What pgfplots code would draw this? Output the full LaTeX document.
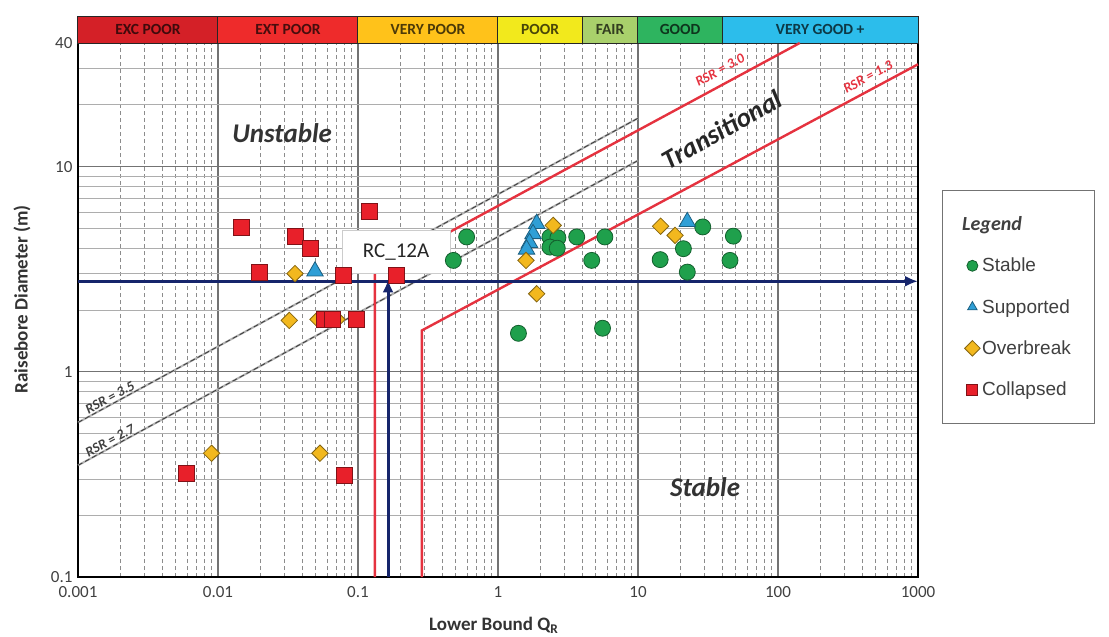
\documentclass[border=0pt]{standalone}
\usepackage{pgfplots}
\pgfplotsset{compat=1.18}
\usepackage{fontspec}
\setmainfont{Carlito}
\newfontfamily\arialf{Liberation Sans}
\usetikzlibrary{arrows.meta}

\definecolor{excpoor}{HTML}{D42027}
\definecolor{extpoor}{HTML}{EE2B2B}
\definecolor{verypoor}{HTML}{FFC21A}
\definecolor{poorc}{HTML}{F2E91C}
\definecolor{fairc}{HTML}{A9D06B}
\definecolor{goodc}{HTML}{2EB45F}
\definecolor{vgc}{HTML}{2CBDEB}
\definecolor{rsrred}{HTML}{E5323F}
\definecolor{navy}{HTML}{16256B}
\definecolor{stablec}{HTML}{1FA04C}
\definecolor{suppc}{HTML}{2F9FD6}
\definecolor{overc}{HTML}{F2B81E}
\definecolor{collc}{HTML}{E8202A}

\begin{document}
\begin{tikzpicture}
\begin{axis}[
  scale only axis, width=840pt, height=534pt,
  xmode=log, ymode=log,
  xmin=0.001, xmax=1000, ymin=0.1, ymax=40,
  clip=false,
  axis line style={black, line width=1.4pt},
  tick style={draw=none},
  xtick={0.001,0.01,0.1,1,10,100,1000},
  xticklabels={0.001,0.01,0.1,1,10,100,1000},
  minor xtick={0.002,0.003,0.004,0.005,0.006,0.007,0.008,0.009,
               0.02,0.03,0.04,0.05,0.06,0.07,0.08,0.09,
               0.2,0.3,0.4,0.5,0.6,0.7,0.8,0.9,
               2,3,4,5,6,7,8,9,20,30,40,50,60,70,80,90,
               200,300,400,500,600,700,800,900},
  ytick={0.1,1,10,40},
  yticklabels={0.1,1,10,40},
  minor ytick={0.2,0.3,0.4,0.5,0.6,0.7,0.8,0.9,2,3,4,5,6,7,8,9,20,30},
  grid=both,
  major grid style={black!55, line width=1.1pt},
  minor x grid style={black!45, line width=0.8pt, dash pattern=on 4pt off 3pt},
  minor y grid style={black!32, line width=0.9pt},
  ticklabel style={font=\fontsize{17}{19}\selectfont, text=black!75},
  xticklabel style={yshift=-6pt},
  yticklabel style={xshift=-2pt},
  xlabel={Lower Bound Q\textsubscript{R}},
  ylabel={Raisebore Diameter (m)},
  every axis x label/.style={at={(axis description cs:0.495,-0.09)}, anchor=center,
     font=\bfseries\fontsize{19}{21}\selectfont, text=black!80},
  every axis y label/.style={at={(axis description cs:-0.0667,0.52)}, anchor=center, rotate=90,
     font=\bfseries\fontsize{19}{21}\selectfont, text=black!80},
  legend image code/.code={\draw[#1,mark size=5.5pt] plot coordinates {(0pt,0pt)};},
  legend style={at={(axis description cs:1.0286,0.7247)}, anchor=north west,
     draw=black!55, line width=1.2pt, fill=white, inner xsep=22pt, inner ysep=24pt,
     row sep=22pt, font=\arialf\fontsize{19}{21}\selectfont, text=black!75,
     cells={anchor=west}},
  legend cell align=left,
]
% rating band
\filldraw[draw=black!85, line width=1pt, fill=excpoor] (axis cs:0.001,40) rectangle (axis cs:0.01,53.6);
\filldraw[draw=black!85, line width=1pt, fill=extpoor] (axis cs:0.01,40) rectangle (axis cs:0.1,53.6);
\filldraw[draw=black!85, line width=1pt, fill=verypoor] (axis cs:0.1,40) rectangle (axis cs:1,53.6);
\filldraw[draw=black!85, line width=1pt, fill=poorc] (axis cs:1,40) rectangle (axis cs:4,53.6);
\filldraw[draw=black!85, line width=1pt, fill=fairc] (axis cs:4,40) rectangle (axis cs:10,53.6);
\filldraw[draw=black!85, line width=1pt, fill=goodc] (axis cs:10,40) rectangle (axis cs:40,53.6);
\filldraw[draw=black!85, line width=1pt, fill=vgc] (axis cs:40,40) rectangle (axis cs:1000,53.6);
\begin{scope}[every node/.style={font=\bfseries\fontsize{15.5}{17}\selectfont}]
\node[text=excpoor!30!black] at (axis cs:0.00316,46.3) {EXC POOR};
\node[text=extpoor!30!black] at (axis cs:0.0316,46.3) {EXT POOR};
\node[text=verypoor!30!black] at (axis cs:0.316,46.3) {VERY POOR};
\node[text=poorc!30!black] at (axis cs:2,46.3) {POOR};
\node[text=fairc!30!black] at (axis cs:6.32,46.3) {FAIR};
\node[text=goodc!30!black] at (axis cs:20,46.3) {GOOD};
\node[text=vgc!30!black] at (axis cs:200,46.3) {VERY GOOD +};
\end{scope}

% legend title
\addlegendimage{empty legend}
\addlegendentry{\hspace*{-20pt}\normalfont\bfseries\itshape\fontsize{20}{22}\selectfont Legend}

% RSR dashed lines
\addplot[forget plot, black!30, line width=2pt] coordinates {(0.001,0.566) (10,17.2)};
\addplot[forget plot, black!30, line width=2pt] coordinates {(0.001,0.35) (10,10.7)};
\addplot[forget plot, black!75, line width=0.9pt, dash pattern=on 5pt off 3pt] coordinates {(0.001,0.566) (10,17.2)};
\addplot[forget plot, black!75, line width=0.9pt, dash pattern=on 5pt off 3pt] coordinates {(0.001,0.35) (10,10.7)};
% RSR red lines
\addplot[forget plot, rsrred, line width=2.4pt] coordinates {(0.132,0.1) (0.132,3.05) (143,40)};
\addplot[forget plot, rsrred, line width=2.4pt] coordinates {(0.286,0.1) (0.286,1.59) (1000,31.5)};

% data
\addplot[only marks, mark=*, mark size=8pt, mark options={fill=stablec, draw=stablec!60!black, line width=0.8pt}] table {
x y
0.597 4.54
0.48 3.49
2.35 4.53
2.68 4.50
2.35 4.05
2.65 4.00
3.65 4.54
5.8 4.54
4.67 3.49
1.40 1.54
5.58 1.63
29 5.08
21.1 3.98
14.4 3.52
22.5 3.06
48 4.58
45.4 3.49
};
\addlegendentry{Stable}
\addplot[only marks, mark=triangle*, mark size=9.5pt, mark options={fill=suppc, draw=suppc!60!black, line width=0.8pt}] table {
x y
0.0493 3.09
1.89 5.27
1.78 4.70
1.68 4.25
1.60 3.95
22.5 5.38
};
\addlegendentry{Supported}
\addplot[only marks, mark=square*, mark size=5.8pt, mark options={rotate=45, fill=overc, draw=overc!55!black, line width=0.8pt}] table {
x y
0.0355 3.01
0.0323 1.78
0.0518 1.80
0.0708 1.80
0.0090 0.401
0.0535 0.401
1.585 3.49
2.48 5.17
1.89 2.40
14.5 5.12
18.4 4.62
};
\addlegendentry{Overbreak}
\addplot[only marks, mark=square*, mark size=8pt, mark options={fill=collc, draw=collc!55!black, line width=0.8pt}] table {
x y
0.0148 5.08
0.036 4.59
0.0454 4.01
0.120 6.06
0.0197 3.04
0.0785 2.95
0.189 2.95
0.0572 1.80
0.0652 1.80
0.098 1.80
0.00597 0.321
0.0794 0.313
};
\addlegendentry{Collapsed}

% navy arrows
\addplot[forget plot, navy, line width=3pt, -{Latex[length=13pt,width=11pt]}] coordinates {(0.001,2.76) (1000,2.76)};
\addplot[forget plot, navy, line width=3pt, -{Latex[length=13pt,width=11pt]}] coordinates {(0.164,0.1) (0.164,2.82)};

% annotations
\node[fill=white, draw=black!20, line width=0.8pt, minimum width=108pt, minimum height=43pt,
      font=\fontsize{21}{23}\selectfont, text=black!85] at (axis cs:0.187,3.85) {RC\_12A};
\node[font=\bfseries\itshape\fontsize{27}{29}\selectfont, text=black!80] at (axis cs:0.0287,14.5) {Unstable};
\node[font=\bfseries\itshape\fontsize{27}{29}\selectfont, text=black!80] at (axis cs:30.1,0.273) {Stable};
\node[font=\bfseries\itshape\fontsize{27}{29}\selectfont, text=black!85, rotate=29.5] at (axis cs:39.8,15.1) {Transitional};
\node[font=\bfseries\itshape\fontsize{14}{16}\selectfont, text=rsrred, rotate=28.5] at (axis cs:38.5,29.5) {RSR = 3.0};
\node[font=\bfseries\itshape\fontsize{14}{16}\selectfont, text=rsrred, rotate=28.5] at (axis cs:439,27.3) {RSR = 1.3};
\node[font=\bfseries\itshape\fontsize{14}{16}\selectfont, text=black!75, rotate=28.5] at (axis cs:0.00169,0.749) {RSR = 3.5};
\node[font=\bfseries\itshape\fontsize{14}{16}\selectfont, text=black!75, rotate=28.5] at (axis cs:0.00169,0.462) {RSR = 2.7};
\end{axis}
\path (-78pt,-59pt) rectangle (1031pt,577pt);
\end{tikzpicture}
\end{document}
